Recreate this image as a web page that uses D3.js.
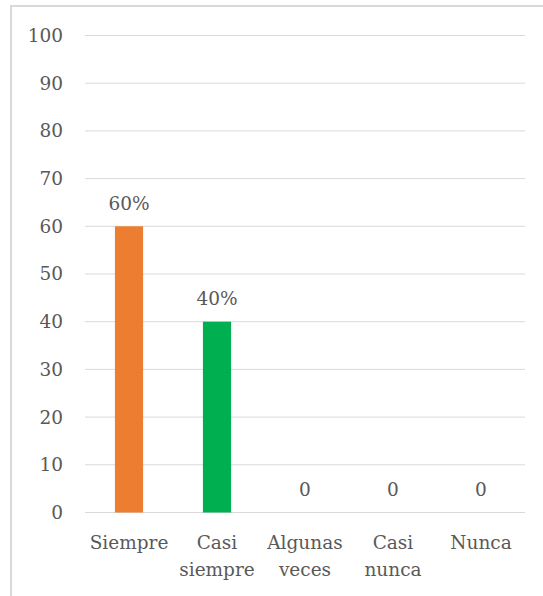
<!DOCTYPE html>
<html>
<head>
<meta charset="utf-8">
<script src="https://cdn.jsdelivr.net/npm/d3@7"></script>
<style>
  html, body { margin: 0; padding: 0; background: #fff; }
  svg { display: block; }
</style>
</head>
<body>
<svg id="chart" width="543" height="596"></svg>
<script>
// Survey answers, percentage of respondents per option
const categories = [["Siempre"], ["Casi", "siempre"], ["Algunas", "veces"], ["Casi", "nunca"], ["Nunca"]];
const values = [60, 40, 0, 0, 0];
const valueLabels = ["60%", "40%", "0", "0", "0"];
const barColors = ["#ED7D31", "#00B050", "#A5A5A5", "#FFC000", "#5B9BD5"];
const yTicks = [0, 10, 20, 30, 40, 50, 60, 70, 80, 90, 100];

const FONT = "DejaVu Serif";
const FONT_SIZE = "18.5px";
const TEXT_COLOR = "#595959";

const svg = d3.select("#chart");
const W = 543, H = 596;
const margin = { top: 35.5, right: 18, bottom: 83.5, left: 85 };
const innerW = W - margin.left - margin.right;
const innerH = H - margin.top - margin.bottom;

// Outer frame (top and left edges visible)
svg.append("rect")
  .attr("x", 11).attr("y", 6)
  .attr("width", W + 20).attr("height", H + 20)
  .attr("fill", "none")
  .attr("stroke", "#d9d9d9")
  .attr("stroke-width", 2);

const g = svg.append("g").attr("transform", `translate(${margin.left},${margin.top})`);

const x = d3.scaleBand()
  .domain(d3.range(categories.length))
  .range([0, innerW])
  .paddingInner(0.68)
  .paddingOuter(0.34);

const y = d3.scaleLinear().domain([0, 100]).range([innerH, 0]);

// Horizontal gridlines
g.append("g")
  .selectAll("line")
  .data(yTicks)
  .join("line")
  .attr("x1", 0).attr("x2", innerW)
  .attr("y1", d => y(d)).attr("y2", d => y(d))
  .attr("stroke", "#d9d9d9")
  .attr("stroke-width", 1);

// Y axis labels
const yAxis = d3.axisLeft(y).tickValues(yTicks).tickSize(0).tickPadding(22);
const yG = g.append("g").call(yAxis);
yG.select(".domain").remove();
yG.selectAll("text")
  .style("font-family", FONT)
  .style("font-size", FONT_SIZE)
  .attr("fill", TEXT_COLOR);

// Bars
g.append("g")
  .selectAll("rect")
  .data(values)
  .join("rect")
  .attr("x", (d, i) => x(i))
  .attr("width", x.bandwidth())
  .attr("y", d => y(d))
  .attr("height", d => innerH - y(d))
  .attr("fill", (d, i) => barColors[i]);

// Value labels above bars
g.append("g")
  .selectAll("text")
  .data(values)
  .join("text")
  .attr("x", (d, i) => x(i) + x.bandwidth() / 2)
  .attr("y", d => y(d) - 16.5)
  .attr("text-anchor", "middle")
  .style("font-family", FONT)
  .style("font-size", FONT_SIZE)
  .attr("fill", TEXT_COLOR)
  .text((d, i) => valueLabels[i]);

// Category labels (wrapped on two lines)
const catG = g.append("g").attr("transform", `translate(0,${innerH})`);
categories.forEach((lines, i) => {
  const cx = x(i) + x.bandwidth() / 2;
  const t = catG.append("text")
    .attr("x", cx)
    .attr("y", 36.5)
    .attr("text-anchor", "middle")
    .style("font-family", FONT)
    .style("font-size", FONT_SIZE)
    .attr("fill", TEXT_COLOR);
  lines.forEach((ln, k) => {
    t.append("tspan")
      .attr("x", cx)
      .attr("dy", k === 0 ? 0 : 27)
      .text(ln);
  });
});
</script>
</body>
</html>
